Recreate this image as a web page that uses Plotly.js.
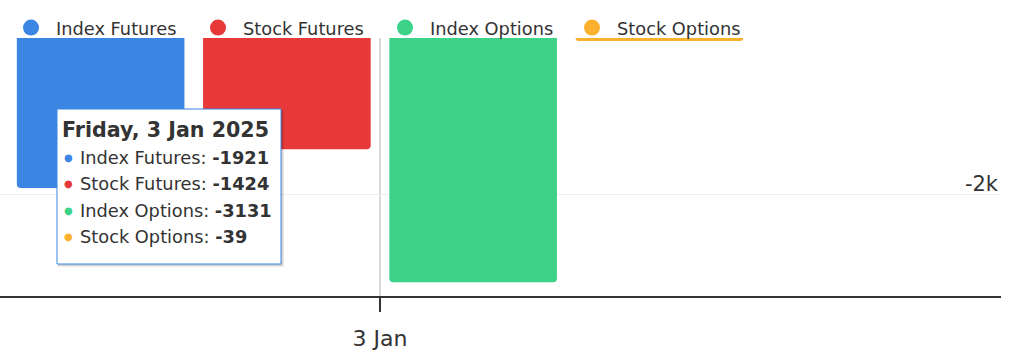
<!DOCTYPE html>
<html>
<head>
<meta charset="utf-8">
<script src="https://cdn.plot.ly/plotly-3.0.1.min.js"></script>
<style>
html,body{margin:0;padding:0;background:#fff;}
#chart{width:1012px;height:355px;}
</style>
</head>
<body>
<div id="chart"></div>
<script>
// ---- data ----
var categories = ["3 Jan"];
var tooltipDate = "Friday, 3 Jan 2025";
var seriesNames = ["Index Futures", "Stock Futures", "Index Options", "Stock Options"];
var indexFutures = [-1921];
var stockFutures = [-1424];
var indexOptions = [-3131];
var stockOptions = [-39];
var seriesColors = ["#3a86e2", "#e8393a", "#3cd389", "#fbb12d"];
var yTickVals = [-2000, 0];
var yTickText = ["-2k", ""];

var seriesValues = [indexFutures, stockFutures, indexOptions, stockOptions];

// ---- geometry (pixels) ----
var W = 1012, H = 355;
var M = {l: 0, r: 11, t: 38, b: 59};
var PW = W - M.l - M.r, PH = H - M.t - M.b;
function px(x){ return (x - M.l) / PW; }
function py(y){ return (H - M.b - y) / PH; }

var FONT = "DejaVu Sans, sans-serif";
var TXT = "#333333";

var traces = [];
seriesNames.forEach(function(n, i){
  traces.push({
    type: "bar", name: n, x: categories, y: seriesValues[i],
    marker: {color: seriesColors[i], cornerradius: 4, line: {width: 0}},
    showlegend: false, hoverinfo: "skip"
  });
});
seriesNames.forEach(function(n, i){
  traces.push({
    type: "scatter", mode: "markers", name: n, x: [null], y: [null],
    marker: {color: seriesColors[i], size: 20, symbol: "circle"},
    showlegend: true, hoverinfo: "skip"
  });
});

var unitPx = 745 / 0.8;
var centerPx = 380;
var xRange = [-(centerPx - M.l) / unitPx, (M.l + PW - centerPx) / unitPx];

// tooltip
var box = {x0: 57, x1: 281, y0: 109, y1: 264};
var shapes = [
  {type: "line", xref: "x", yref: "paper", x0: 0, x1: 0, y0: 0, y1: 1,
   line: {color: "#cccccc", width: 1.5}, layer: "below"},
  {type: "rect", xref: "paper", yref: "paper",
   x0: px(box.x0 + 1), x1: px(box.x1 + 3), y0: py(box.y1 + 3), y1: py(box.y0 + 1),
   fillcolor: "rgba(0,0,0,0.08)", line: {width: 0}, layer: "above"},
  {type: "rect", xref: "paper", yref: "paper",
   x0: px(box.x0 + 1), x1: px(box.x1 + 2), y0: py(box.y1 + 2), y1: py(box.y0 + 1),
   fillcolor: "rgba(0,0,0,0.10)", line: {width: 0}, layer: "above"},
  {type: "rect", xref: "paper", yref: "paper",
   x0: px(box.x0), x1: px(box.x1), y0: py(box.y1), y1: py(box.y0),
   fillcolor: "#ffffff", line: {color: seriesColors[0], width: 1}, layer: "above"}
];
var annotations = [
  {xref: "paper", yref: "paper", x: px(60), y: py(130), xanchor: "left", yanchor: "middle",
   text: "<b>" + tooltipDate + "</b>", showarrow: false,
   font: {family: FONT, size: 20.6, color: TXT}}
];
seriesNames.forEach(function(n, i){
  var yy = 157 + i * 26.5;
  annotations.push({xref: "paper", yref: "paper", x: px(68), y: py(yy), xanchor: "center", yanchor: "middle",
    text: "●", showarrow: false, font: {family: "DejaVu Sans", size: 10, color: seriesColors[i]}});
  annotations.push({xref: "paper", yref: "paper", x: px(78), y: py(yy), xanchor: "left", yanchor: "middle",
    text: n + ": <b>" + seriesValues[i][0] + "</b>", showarrow: false,
    font: {family: FONT, size: 17.8, color: TXT}});
});

var layout = {
  width: W, height: H,
  margin: M,
  paper_bgcolor: "#ffffff", plot_bgcolor: "#ffffff",
  font: {family: FONT, color: TXT},
  barmode: "group", bargap: 0.2, bargroupgap: 0.1,
  showlegend: true,
  legend: {orientation: "h", x: px(6), y: py(28), xanchor: "left", yanchor: "middle",
           font: {family: FONT, size: 17.8, color: TXT}, itemwidth: 40,
           entrywidth: 132, entrywidthmode: "pixels",
           bgcolor: "rgba(0,0,0,0)", itemclick: false},
  xaxis: {type: "category", range: xRange, showgrid: false, zeroline: false,
          showline: true, linecolor: "#333333", linewidth: 1.5,
          ticks: "outside", ticklen: 14, tickcolor: "#333333", tickwidth: 1.5,
          ticklabelstandoff: 8,
          tickfont: {family: FONT, size: 22, color: TXT}, fixedrange: true},
  yaxis: {range: [-3306, 0], side: "right", tickvals: yTickVals, ticktext: yTickText,
          ticklabelposition: "inside", ticklabelshift: -10, ticklabelstandoff: 0,
          showgrid: true, gridcolor: "#eeeeee", gridwidth: 1, zeroline: false,
          showline: false, ticks: "",
          tickfont: {family: FONT, size: 21, color: TXT}, fixedrange: true},
  shapes: shapes,
  annotations: annotations,
  hovermode: false
};

Plotly.newPlot("chart", traces, layout, {displayModeBar: false, staticPlot: true});
</script>
</body>
</html>
